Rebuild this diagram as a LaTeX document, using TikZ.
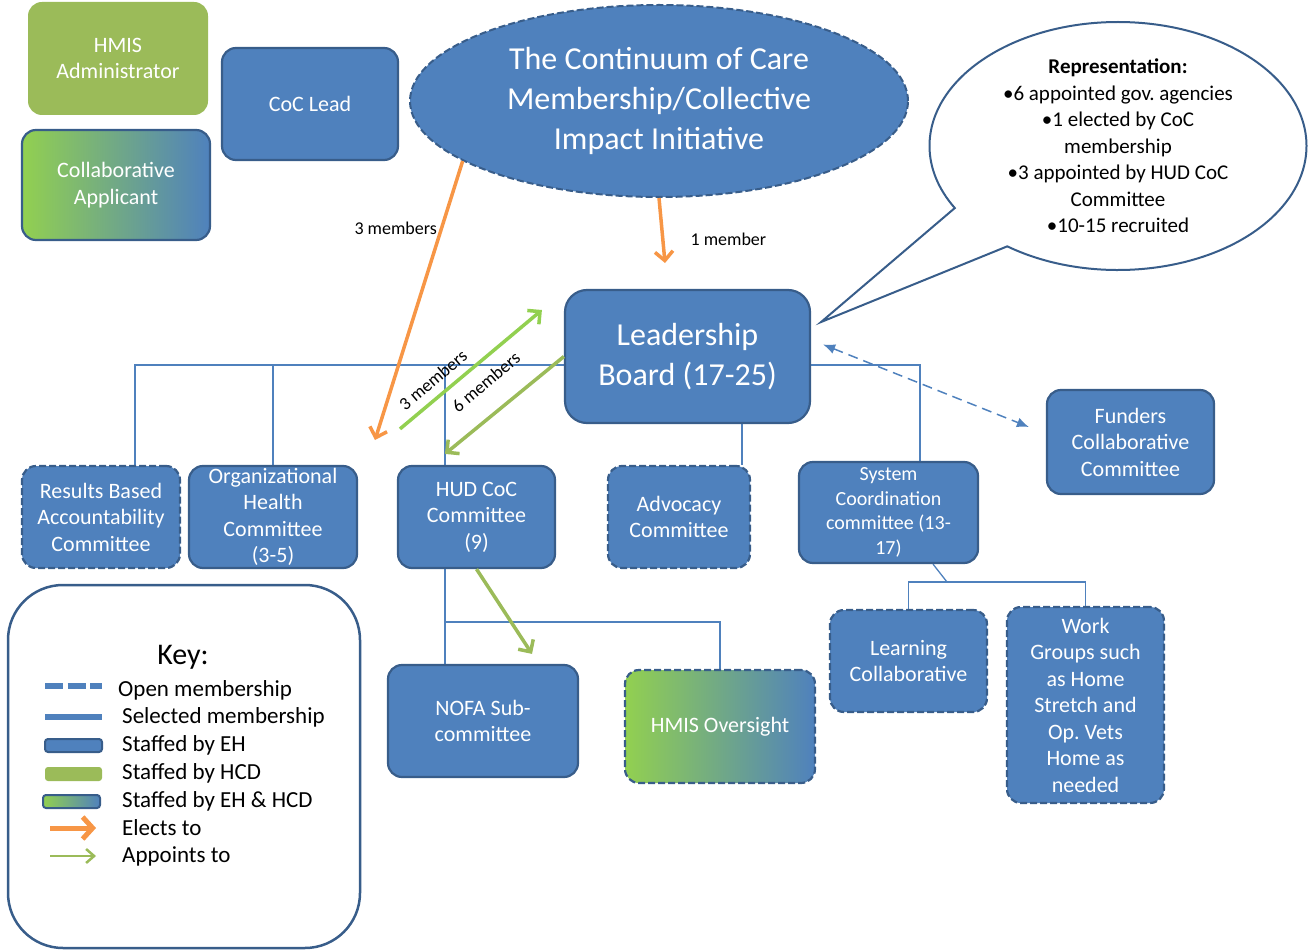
\documentclass[tikz,border=0pt]{standalone}
\usepackage{fontspec}
\setmainfont{Carlito}
\usepackage{xcolor}
\usepackage{tikz}
\usetikzlibrary{arrows.meta}
\usetikzlibrary{shapes.geometric}
\usetikzlibrary{shapes.callouts}
\usetikzlibrary{backgrounds}
\frenchspacing

\definecolor{ehblue}{HTML}{4F81BD}
\definecolor{ehedge}{HTML}{385D8A}
\definecolor{hcdgreen}{HTML}{9BBB59}
\definecolor{mixgreen}{HTML}{92D050}
\definecolor{electorange}{HTML}{F79646}

\newcommand{\orgboxfont}{\fontsize{22}{26.5}\selectfont}
\newcommand{\orgbigfont}{\fontsize{32}{40}\selectfont}
\newcommand{\orgtagfont}{\fontsize{18}{22}\selectfont}
\newcommand{\orgkeyfont}{\fontsize{23}{27}\selectfont}
\newcommand{\orgkeytitle}{\fontsize{30}{36}\selectfont}

\tikzset{
    orgnode/.style = {align=center, inner sep=0pt, text centered, rectangle, rounded corners=14pt, font=\orgboxfont, text=white},
    eh_node/.style = {orgnode, draw=ehedge, fill=ehblue, line width=2.2pt},
    hcd_node/.style = {orgnode, fill=hcdgreen},
    mix_node/.style = {orgnode, draw=ehedge, line width=2.2pt, left color=mixgreen, right color=ehblue},
    open_node/.style = {dash pattern=on 7pt off 3pt},
    dims/.style 2 args = {minimum width=#1pt, minimum height=#2pt},
    coc_node/.style = {ellipse, align=center, inner sep=0pt, draw=ehedge, fill=ehblue, line width=2pt, open_node, font=\orgbigfont, text=white, minimum width=498pt, minimum height=192pt},
    bubble/.style = {ellipse callout, align=center, draw=ehedge, fill=white, line width=2pt, font=\fontsize{21}{26.5}\selectfont, inner xsep=0pt, inner ysep=-25pt, callout pointer arc=24},
    key_box/.style = {rectangle, rounded corners=55pt, draw=ehedge, fill=white, line width=2.5pt},
    key_text/.style = {anchor=west, inner sep=0pt, font=\orgkeyfont},
    tag/.style = {inner sep=0pt, font=\orgtagfont},
    member_line/.style = {draw=ehblue, line width=1.3pt},
    elect_arrow/.style = {draw=electorange, line width=3.5pt, -{Straight Barb[length=9pt, width=18pt]}},
    appoint_a/.style = {draw=mixgreen, line width=3.5pt, -{Straight Barb[length=9pt, width=18pt]}},
    appoint_b/.style = {draw=hcdgreen, line width=3.5pt, -{Straight Barb[length=9pt, width=18pt]}},
    funder_link/.style = {draw=ehblue, line width=1.5pt, dash pattern=on 10pt off 6pt, {Latex[length=12pt, width=10pt]}-{Latex[length=12pt, width=10pt]}}
}

\begin{document}
\begin{tikzpicture}[x=1pt, y=-1pt]
    \useasboundingbox (0,0) rectangle (1311,952);

    % top row
    \node[hcd_node, dims={180}{113}] (hmis_admin) at (118,58.5) {HMIS\\Administrator};
    \node[mix_node, dims={188}{110}] (collab_app) at (116,185) {Collaborative\\Applicant};
    \node[eh_node, dims={176}{112}] (coc_lead) at (310,104) {CoC Lead};
    \node[coc_node] (coc) at (659,101) {The Continuum of Care\\Membership/Collective\\Impact Initiative};

    % board and callout
    \node[eh_node, dims={245}{133}, rounded corners=22pt, font=\orgbigfont] (leadership) at (687.5,356.5) {Leadership\\Board (17-25)};
    \node[bubble, dims={377}{248}, callout absolute pointer={([shift={(10,-34.5)}]leadership.east)}] (reps) at (1118,146)
        {\textbf{Representation:}\\•6 appointed gov. agencies\\•1 elected by CoC\\membership\\•3 appointed by HUD CoC\\Committee\\•10-15 recruited};

    % committees
    \node[eh_node, open_node, dims={158}{102}] (rba) at (101,517) {Results Based\\Accountability\\Committee};
    \node[eh_node, dims={168}{102}] (org_health) at (273,517) {Organizational\\Health\\Committee\\(3-5)};
    \node[eh_node, dims={157}{102}] (hud) at (476.5,517) {HUD CoC\\Committee\\(9)};
    \node[eh_node, open_node, dims={142}{102}] (advocacy) at (679,517) {Advocacy\\Committee};
    \node[eh_node, dims={179}{101}, font=\fontsize{20}{24.5}\selectfont] (sys_coord) at (888.5,512.5) {System\\Coordination\\committee (13-\\17)};
    \node[eh_node, dims={167}{104}] (funders) at (1130.5,442) {Funders\\Collaborative\\Committee};

    % sub groups
    \node[eh_node, open_node, dims={157}{102}] (learning) at (908.5,661) {Learning\\Collaborative};
    \node[eh_node, open_node, dims={157}{196}] (work_groups) at (1085.5,705) {Work\\Groups such\\as Home\\Stretch and\\Op. Vets\\Home as\\needed};
    \node[eh_node, dims={190}{112}] (nofa) at (483,721) {NOFA Sub-\\committee};
    \node[mix_node, open_node, dims={190}{113}] (hmis_oversight) at (720,726.5) {HMIS Oversight};

    % membership lines
    \begin{pgfonlayer}{background}
        \coordinate (bus_w) at (135,365);
        \coordinate (bus_e) at (920,365);
        \coordinate (hud_top) at ([xshift=-31.5pt]hud.north);
        \coordinate (hud_bot) at ([xshift=-31.5pt]hud.south);
        \coordinate (hud_bus) at (445,622);
        \coordinate (adv_top) at ([xshift=63pt]advocacy.north);
        \coordinate (sys_bot) at ([xshift=44.5pt]sys_coord.south);
        \coordinate (sys_bus) at (947,582);
        \draw[member_line] (rba.north -| bus_w) -- (bus_w) -- (bus_e) -- (sys_coord.north -| bus_e);
        \draw[member_line] (org_health.north) -- (org_health.north |- bus_w);
        \draw[member_line] (hud_top) -- (hud_top |- bus_w);
        \draw[member_line] (adv_top) -- (adv_top |- leadership.south);
        \draw[member_line] (hud_bot) -- (nofa.north -| hud_bot);
        \draw[member_line] (hud_bus) -| (hmis_oversight.north);
        \draw[member_line] (sys_bot) -- (sys_bus);
        \draw[member_line] (learning.north) |- (sys_bus) -| (work_groups.north);
    \end{pgfonlayer}

    % elects and appoints
    \coordinate (elect_end) at (375,440);
    \coordinate (one_end) at (665,263);
    \coordinate (hud_appoint) at ([shift={(-76.5,-36)}]hud.north);
    \coordinate (board_in) at ([shift={(-22,-46.5)}]leadership.west);
    \coordinate (hud_in) at ([shift={(-31.5,-11)}]hud.north);
    \coordinate (nofa_in) at ([shift={(49,-10)}]nofa.north);
    \draw[elect_arrow] (coc.197) -- (elect_end) node[tag, pos=0.24, left=3pt] (lbl_three_a) {3 members};
    \draw[elect_arrow] (coc.south) -- (one_end) node[tag, pos=0.64, right=26pt] (lbl_one) {1 member};
    \draw[appoint_a] (hud_appoint) -- (board_in);
    \draw[appoint_b] (leadership.west) -- (hud_in);
    \draw[appoint_b] (hud.south) -- (nofa_in);
    \node[tag, rotate=40] (lbl_three_b) at (433,380) {3 members};
    \node[tag, rotate=40] (lbl_six) at (486,382) {6 members};
    \draw[funder_link] ([shift={(12,-12)}]leadership.east) -- ([shift={(-17,-15)}]funders.west);

    % key
    \node[key_box, dims={352}{363}] (key) at (184,766.5) {};
    \node[font=\orgkeytitle, inner sep=0pt] (key_title) at (183,657) {Key:};
    \draw[ehblue, line width=6pt, dash pattern=on 18pt off 4.5pt] (45,686) -- (102,686);
    \draw[ehblue, line width=6pt] (45,717) -- (102,717);
    \draw[fill=ehblue, draw=ehedge, line width=2pt, rounded corners=3pt] (45,739) rectangle (102,752);
    \fill[hcdgreen, rounded corners=3pt] (45,767) rectangle (102,781);
    \draw[left color=mixgreen, right color=ehblue, draw=ehedge, line width=2pt, rounded corners=3pt] (43,795) rectangle (100,808);
    \draw[draw=electorange, line width=5pt, -{Straight Barb[length=10pt, width=22pt]}] (50,828) -- (96,828);
    \draw[draw=hcdgreen, line width=2.5pt, -{Straight Barb[length=8pt, width=14pt]}] (50,856) -- (96,856);
    \node[key_text] (key_1) at (118,690) {Open membership};
    \foreach \y/\txt [count=\i from 2] in {717/Selected membership, 745/Staffed by EH, 773/Staffed by HCD, 801/Staffed by EH \& HCD, 828/Elects to, 856/Appoints to}
        \node[key_text] (key_\i) at (122,\y) {\txt};
\end{tikzpicture}
\end{document}
